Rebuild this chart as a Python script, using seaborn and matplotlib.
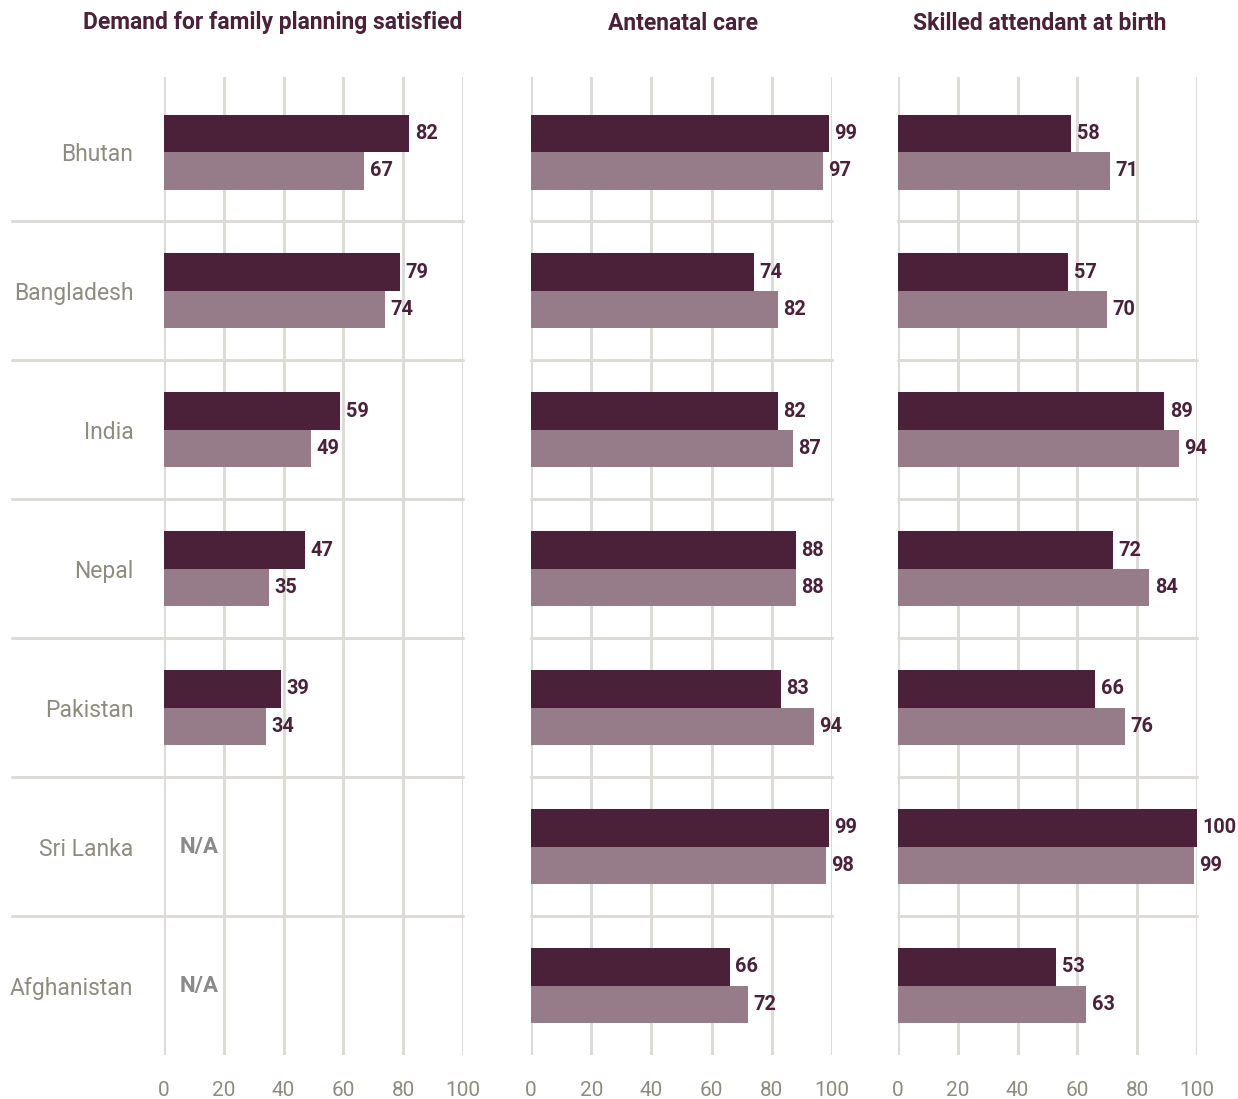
import matplotlib
matplotlib.use('Agg')
import matplotlib.pyplot as plt
import numpy as np
import pandas as pd
import seaborn as sns

sns.set_style('white')
plt.rcParams['font.family'] = ['Roboto', 'DejaVu Sans']

COUNTRIES = ['Bhutan', 'Bangladesh', 'India', 'Nepal', 'Pakistan', 'Sri Lanka', 'Afghanistan']
GROUPS = ['Group 1', 'Group 2']
TITLES = ['Demand for family planning satisfied', 'Antenatal care', 'Skilled attendant at birth']

FP_GROUP1 = [82, 79, 59, 47, 39, np.nan, np.nan]
FP_GROUP2 = [67, 74, 49, 35, 34, np.nan, np.nan]
ANC_GROUP1 = [99, 74, 82, 88, 83, 99, 66]
ANC_GROUP2 = [97, 82, 87, 88, 94, 98, 72]
SBA_GROUP1 = [58, 57, 89, 72, 66, 100, 53]
SBA_GROUP2 = [71, 70, 94, 84, 76, 99, 63]

X_TICKS = [0, 20, 40, 60, 80, 100]

DARK = '#4a2139'
LIGHT = '#967b88'
GRID = '#dddbd7'
LABEL_GREY = '#8e8c7f'


def build_frame(group1: list, group2: list) -> pd.DataFrame:
    """Returns long-form data for one panel."""
    return pd.DataFrame({
        'country': COUNTRIES * 2,
        'group': [GROUPS[0]] * len(COUNTRIES) + [GROUPS[1]] * len(COUNTRIES),
        'value': list(group1) + list(group2),
    })


def main() -> None:
    panels = [
        build_frame(FP_GROUP1, FP_GROUP2),
        build_frame(ANC_GROUP1, ANC_GROUP2),
        build_frame(SBA_GROUP1, SBA_GROUP2),
    ]
    fig = plt.figure(figsize=(12.38, 10.99), dpi=100)
    W, H = 1238, 1099
    lefts = [164, 531, 898]
    widths = [299, 301, 299]
    top, bottom = 77, 1055
    title_centers = [273, 683, 1040]
    for i, data in enumerate(panels):
        ax = fig.add_axes([lefts[i] / W, 1 - bottom / H, widths[i] / W, (bottom - top) / H])
        sns.barplot(
            data=data.dropna(),
            ax=ax,
            x='value',
            y='country',
            hue='group',
            order=COUNTRIES,
            hue_order=GROUPS,
            orient='h',
            width=0.54,
            palette=[DARK, LIGHT],
            errorbar=None,
            linewidth=0,
            legend=False,
            saturation=1,
        )
        for container in ax.containers:
            ax.bar_label(container, fmt='%g', padding=4, color=DARK, fontweight='bold', fontsize=14.3)
        ax.set_xlim(0, 100)
        ax.set_ylim(6.5, -0.54)
        ax.set_xticks(X_TICKS)
        ax.grid(axis='x', color=GRID, linewidth=2.2)
        ax.grid(axis='y', visible=False)
        ax.set_axisbelow(True)
        for spine in ax.spines.values():
            spine.set_visible(False)
        xmin = -(164 - 12) / 299 if i == 0 else 0
        for y in np.arange(0.5, len(COUNTRIES) - 1, 1):
            ax.axhline(y, xmin=xmin, xmax=1, color=GRID, linewidth=2.2, clip_on=False, zorder=0)
        ax.tick_params(axis='x', length=0, pad=19, labelsize=15, labelcolor=LABEL_GREY)
        ax.set_xlabel('')
        ax.set_ylabel('')
        if i == 0:
            ax.tick_params(axis='y', length=0, pad=22, labelsize=16.5, labelcolor=LABEL_GREY)
            for j, country in enumerate(COUNTRIES):
                if np.isnan(FP_GROUP1[j]):
                    ax.text(5.3, j, 'N/A', color='#8a8a8a', fontweight='bold', fontsize=16,
                            ha='left', va='center')
        else:
            ax.set_yticklabels([])
            ax.tick_params(axis='y', length=0)
        fig.text(title_centers[i] / W, 1 - 23 / H, TITLES[i], ha='center', va='center',
                 color=DARK, fontweight='bold', fontsize=16.5)
    fig.savefig('out.png', dpi=100)


if __name__ == '__main__':
    main()
